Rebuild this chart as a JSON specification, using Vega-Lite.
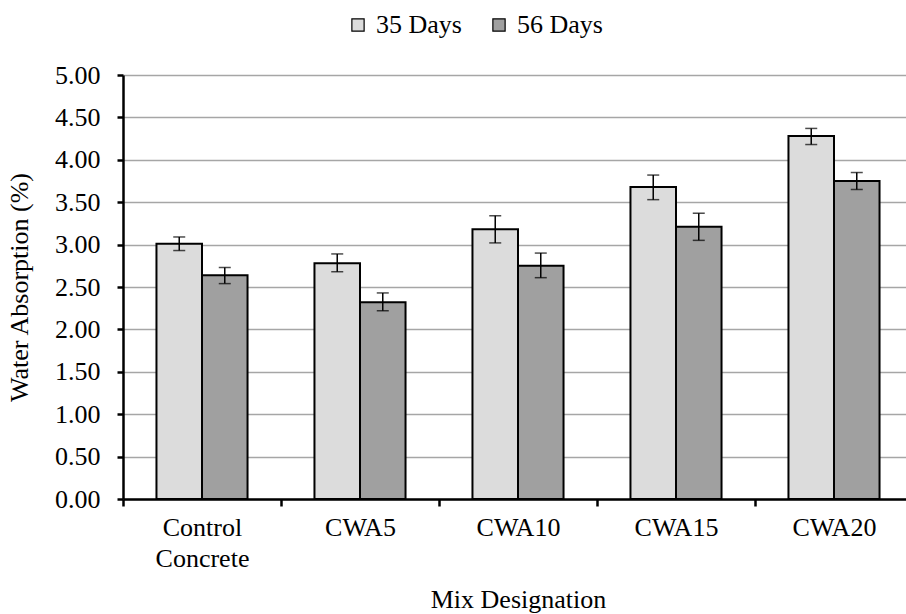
{
  "$schema": "https://vega.github.io/schema/vega-lite/v6.json",
  "width": 783,
  "height": 424,
  "autosize": {"type": "none"},
  "padding": {"left": 123, "top": 75, "right": 0, "bottom": 115},
  "background": "white",
  "config": {"font": "Liberation Serif", "view": {"stroke": null}},
  "data": {
    "values": [
      {"mix": "Control Concrete", "series": "35 Days", "value": 3.01, "lo": 2.93, "hi": 3.09},
      {"mix": "Control Concrete", "series": "56 Days", "value": 2.64, "lo": 2.54, "hi": 2.73},
      {"mix": "CWA5", "series": "35 Days", "value": 2.78, "lo": 2.68, "hi": 2.89},
      {"mix": "CWA5", "series": "56 Days", "value": 2.32, "lo": 2.22, "hi": 2.43},
      {"mix": "CWA10", "series": "35 Days", "value": 3.18, "lo": 3.02, "hi": 3.34},
      {"mix": "CWA10", "series": "56 Days", "value": 2.75, "lo": 2.61, "hi": 2.90},
      {"mix": "CWA15", "series": "35 Days", "value": 3.68, "lo": 3.53, "hi": 3.82},
      {"mix": "CWA15", "series": "56 Days", "value": 3.21, "lo": 3.05, "hi": 3.37},
      {"mix": "CWA20", "series": "35 Days", "value": 4.28, "lo": 4.18, "hi": 4.37},
      {"mix": "CWA20", "series": "56 Days", "value": 3.75, "lo": 3.65, "hi": 3.85}
    ]
  },
  "encoding": {
    "x": {
      "field": "mix",
      "type": "nominal",
      "sort": ["Control Concrete", "CWA5", "CWA10", "CWA15", "CWA20"],
      "scale": {"paddingInner": 0, "paddingOuter": 0, "range": [0, 790]},
      "axis": {
        "title": "Mix Designation",
        "labelAngle": 0,
        "labelFontSize": 26,
        "labelColor": "black",
        "labelPadding": 8,
        "labelLineHeight": 31,
        "labelExpr": "datum.label == 'Control Concrete' ? ['Control', 'Concrete'] : datum.label",
        "tickBand": "extent",
        "tickSize": 7,
        "tickWidth": 2.5,
        "tickColor": "black",
        "domainColor": "black",
        "domainWidth": 2.5,
        "grid": false,
        "titleFontSize": 26,
        "titleFontWeight": "normal",
        "titleColor": "black",
        "titlePadding": 15
      }
    },
    "xOffset": {
      "field": "series",
      "type": "nominal",
      "scale": {"paddingInner": 0, "paddingOuter": 0.735}
    }
  },
  "layer": [
    {
      "mark": {"type": "bar", "stroke": "black", "strokeWidth": 2},
      "encoding": {
        "y": {
          "field": "value",
          "type": "quantitative",
          "title": "Water Absorption (%)",
          "scale": {"domain": [0, 5], "nice": false},
          "axis": {
            "values": [0, 0.5, 1, 1.5, 2, 2.5, 3, 3.5, 4, 4.5, 5],
            "format": ".2f",
            "labelFontSize": 26,
            "labelColor": "black",
            "labelPadding": 17,
            "tickSize": 6,
            "tickWidth": 2.5,
            "tickColor": "black",
            "domainColor": "black",
            "domainWidth": 2.5,
            "gridColor": "#a6a6a6",
            "gridWidth": 1.5,
            "titleFontSize": 26,
            "titleFontWeight": "normal",
            "titleColor": "black",
            "titlePadding": 22
          }
        },
        "fill": {
          "field": "series",
          "type": "nominal",
          "scale": {"range": ["#dcdcdc", "#a0a0a0"]},
          "legend": {
            "orient": "none",
            "legendX": 222,
            "legendY": -63,
            "direction": "horizontal",
            "title": null,
            "symbolType": "square",
            "symbolSize": 150,
            "symbolStrokeColor": "black",
            "symbolStrokeWidth": 1.2,
            "labelFontSize": 26,
            "labelColor": "black",
            "labelOffset": 5,
            "columnPadding": 24
          }
        }
      }
    },
    {
      "mark": {"type": "rule", "stroke": "black", "strokeWidth": 1.5},
      "encoding": {
        "y": {"field": "lo", "type": "quantitative", "title": "Water Absorption (%)"},
        "y2": {"field": "hi"}
      }
    },
    {
      "mark": {"type": "tick", "color": "black", "thickness": 1.5, "size": 12},
      "encoding": {
        "y": {"field": "lo", "type": "quantitative", "title": "Water Absorption (%)"}
      }
    },
    {
      "mark": {"type": "tick", "color": "black", "thickness": 1.5, "size": 12},
      "encoding": {
        "y": {"field": "hi", "type": "quantitative", "title": "Water Absorption (%)"}
      }
    }
  ]
}
